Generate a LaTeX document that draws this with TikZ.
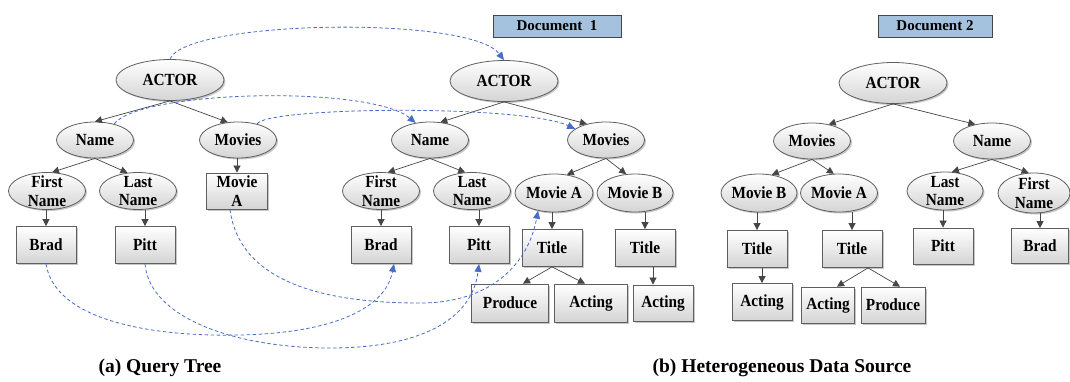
\documentclass[tikz,border=0pt]{standalone}
\usepackage{fontspec}
\setmainfont{Liberation Serif}
\newfontfamily\nodefont{Liberation Serif}[FakeStretch=0.9]
\usetikzlibrary{shapes.geometric,arrows.meta,shadows}
\definecolor{edgegray}{RGB}{70,70,70}
\definecolor{rimgray}{RGB}{95,95,95}
\definecolor{shadegray}{RGB}{212,212,212}
\definecolor{linkblue}{RGB}{72,108,200}
\definecolor{docblue}{RGB}{164,194,222}
\begin{document}
\begin{tikzpicture}[x=1pt,y=-1pt,
  base/.style={draw=rimgray, line width=0.8pt, top color=white, bottom color=shadegray,
    font=\nodefont\bfseries\fontsize{17}{18.5}\selectfont, align=center,
    drop shadow={shadow xshift=1.5pt, shadow yshift=-1.5pt, opacity=0.22, fill=black}},
  ell/.style={base, ellipse, inner xsep=-2pt, inner ysep=-5pt,
    minimum width=77pt, minimum height=36pt},
  root/.style={ell, minimum width=108pt, minimum height=41pt},
  box/.style={base, rectangle, inner sep=0pt, minimum width=60pt, minimum height=37pt},
  doclabel/.style={draw=edgegray, line width=0.8pt, fill=docblue, inner sep=0pt,
    minimum height=22pt, font=\bfseries\fontsize{15}{17}\selectfont},
  caption/.style={font=\bfseries\fontsize{19.5}{22}\selectfont},
  edge/.style={draw=edgegray, line width=0.7pt, -{Triangle[length=7pt,width=7pt]}},
  link/.style={draw=linkblue, line width=0.8pt, dash pattern=on 3.5pt off 2.5pt,
    -{Triangle[length=8pt,width=7pt]}}
]
\useasboundingbox (0,0) rectangle (1070,381);

% ---------- (a) query tree ----------
\node[root] (qA) at (170,80) {ACTOR};
\node[ell] (qN) at (95,140) {Name};
\node[ell] (qM) at (238,140) {Movies};
\node[ell, minimum height=37pt] (qF) at (47,191) {First\\Name};
\node[ell, minimum height=37pt] (qL) at (138,191) {Last\\Name};
\node[box, minimum width=61pt, minimum height=36pt] (qMA) at (237,191) {Movie\\A};
\node[box] (qB) at (46,245) {Brad};
\node[box] (qP) at (145,245) {Pitt};

\draw[edge] (qA.south) -- (qN.north);
\draw[edge] (qA.south) -- (qM.120);
\draw[edge] (qN.south) -- (qF.75);
\draw[edge] (qN.south) -- (qL.120);
\draw[edge] (qM.south -| qMA.north) -- (qMA.north);
\draw[edge] (qF.south -| qB.north) -- (qB.north);
\draw[edge] (qL.south -| qP.north) -- (qP.north);

% ---------- (b) document 1 ----------
\node[doclabel, minimum width=128pt] (d1) at (557,26) {Document~~1};
\node[root] (aA) at (504,81) {ACTOR};
\node[ell] (aN) at (430,140) {Name};
\node[ell] (aM) at (606,140) {Movies};
\node[ell, minimum height=37pt] (aF) at (381,191) {First\\Name};
\node[ell, minimum height=37pt] (aL) at (472,191) {Last\\Name};
\node[ell, minimum width=78pt, minimum height=38pt] (aMA) at (554,193) {Movie A};
\node[ell, minimum width=76pt, minimum height=38pt] (aMB) at (635,193) {Movie B};
\node[box] (aB) at (381,245) {Brad};
\node[box] (aP) at (479,245) {Pitt};
\node[box] (aT1) at (552,248) {Title};
\node[box] (aT2) at (645,248) {Title};
\node[box, minimum width=77pt, minimum height=38pt] (aPr) at (510,303) {Produce};
\node[box, minimum width=73pt, minimum height=38pt] (aAc1) at (591,303) {Acting};
\node[box, minimum height=36pt] (aAc2) at (663,303) {Acting};

\draw[edge] (aA.south) -- (aN.60);
\draw[edge] (aA.south) -- (aM.140);
\draw[edge] (aN.south) -- (aF.70);
\draw[edge] (aN.south) -- (aL.110);
\draw[edge] (aM.south) -- (aMA.55);
\draw[edge] (aM.south) -- (aMB.115);
\draw[edge] (aF.south -| aB.north) -- (aB.north);
\draw[edge] (aL.south -| aP.north) -- (aP.north);
\draw[edge] (aMA.south -| aT1.north) -- (aT1.north);
\draw[edge] (aMB.south -| aT2.north) -- (aT2.north);
\draw[edge] (aT1.south) -- ([xshift=13pt]aPr.north);
\draw[edge] (aT1.south) -- ([xshift=-6pt]aAc1.north);
\coordinate (t2out) at ([xshift=8pt]aT2.south);
\draw[edge] (t2out) -- (t2out |- aAc2.north);

% ---------- (b) document 2 ----------
\node[doclabel, minimum width=114pt] (d2) at (935,26) {Document 2};
\node[root] (bA) at (893,83) {ACTOR};
\node[ell] (bM) at (812,141) {Movies};
\node[ell] (bN) at (992,141) {Name};
\node[ell, minimum width=76pt, minimum height=38pt] (bMB) at (759,193) {Movie B};
\node[ell, minimum width=77pt, minimum height=38pt] (bMA) at (839,193) {Movie A};
\node[ell, minimum width=76pt, minimum height=38pt] (bL) at (945,191) {Last\\Name};
\node[ell, minimum width=72pt, minimum height=40pt] (bF) at (1034,193) {First\\Name};
\node[box] (bT1) at (757,249) {Title};
\node[box] (bT2) at (852,249) {Title};
\node[box] (bAc1) at (762,302) {Acting};
\node[box, minimum width=53pt, minimum height=36pt] (bAc2) at (828,305) {Acting};
\node[box, minimum width=64pt, minimum height=36pt] (bPr) at (893,305) {Produce};
\node[box, minimum height=36pt] (bP) at (943,246) {Pitt};
\node[box, minimum width=57pt, minimum height=35pt] (bB) at (1040,246) {Brad};

\draw[edge] (bA.south) -- (bM.45);
\draw[edge] (bA.south) -- (bN.135);
\draw[edge] (bM.south) -- (bMB.55);
\draw[edge] (bM.south) -- (bMA.105);
\draw[edge] (bN.south) -- (bL.70);
\draw[edge] (bN.south) -- (bF.105);
\draw[edge] (bMB.south -| bT1.north) -- (bT1.north);
\draw[edge] (bMA.south -| bT2.north) -- (bT2.north);
\draw[edge] (bT1.south -| bAc1.north) -- (bAc1.north);
\draw[edge] ([xshift=16pt]bT2.south) -- ([xshift=9pt]bAc2.north);
\draw[edge] ([xshift=16pt]bT2.south) -- ([xshift=7pt]bPr.north);
\draw[edge] (bL.south -| bP.north) -- (bP.north);
\draw[edge] (bF.south -| bB.north) -- (bB.north);

% ---------- correspondences from the query to document 1 ----------
\draw[link] (qA.north) .. controls (185,20) and (470,15) .. (aA.north);
\draw[link] (qN.40) .. controls (140,90) and (370,85) .. (aN.130);
\draw[link] (qM.40) .. controls (265,107) and (520,104) .. (aM.160);
\draw[link] ([xshift=-7pt]qMA.south) .. controls (240,285) and (330,303) .. (420,303)
  .. controls (490,303) and (528,265) .. (aMA.228);
\draw[link] (qB.south) .. controls (55,320) and (150,337) .. (240,335)
  .. controls (330,333) and (385,310) .. ([xshift=13pt]aB.south);
\draw[link] (qP.south) .. controls (150,320) and (240,348) .. (330,348)
  .. controls (420,348) and (472,320) .. (aP.south);

% ---------- captions ----------
\node[caption] (capA) at (160,368) {(a) Query Tree};
\node[caption] (capB) at (782,368) {(b) Heterogeneous Data Source};
\end{tikzpicture}
\end{document}
